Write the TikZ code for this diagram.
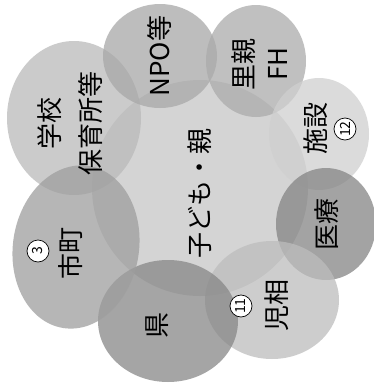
\documentclass[tikz,border=0pt]{standalone}
\usepackage{fontspec}
\setmainfont{Noto Sans CJK JP}
\definecolor{cC}{gray}{0.83}
\definecolor{cGakko}{gray}{0.73}
\definecolor{cNPO}{gray}{0.66}
\definecolor{cSato}{gray}{0.67}
\definecolor{cShis}{gray}{0.81}
\definecolor{cIryo}{gray}{0.52}
\definecolor{cJiso}{gray}{0.74}
\definecolor{cKen}{gray}{0.53}
\definecolor{cShi}{gray}{0.62}
\tikzset{
  blob/.style={fill opacity=0.75, draw=none},
  lbl/.style={rotate=90, text=black, align=center, inner sep=0pt, font=\fontsize{26}{34}\selectfont},
  num/.style={rotate=90, circle, draw=black, line width=0.7pt, fill=white, minimum size=22pt, inner sep=0pt, font=\fontsize{14}{14}\selectfont}
}
\begin{document}
\begin{tikzpicture}[x=1pt,y=-1pt]
\useasboundingbox (0,0) rectangle (374,389);
\fill[white] (0,0) rectangle (374,389);
% central
\fill[cC] (200,188) circle [radius=108];
% surrounding
\fill[cGakko,blob] (74,118) ellipse [x radius=67, y radius=77];
\fill[cNPO,blob] (160,56) ellipse [x radius=57, y radius=52];
\fill[cSato,blob] (256,61) ellipse [x radius=50, y radius=56];
\fill[cShis,blob] (319,134) ellipse [x radius=50, y radius=56];
\fill[cIryo,blob] (326,224) ellipse [x radius=50, y radius=56];
\fill[cJiso,blob] (272,300) ellipse [x radius=67, y radius=59];
\fill[cKen,blob] (168,321) ellipse [x radius=70, y radius=61];
\fill[cShi,blob,rotate around={-9:(76,247)}] (76,247) ellipse [x radius=63, y radius=82];
% labels
\node[lbl, font=\fontsize{26}{41}\selectfont] (gakko) at (70,123) {学校\\保育所等};
\node[lbl] (npo) at (160,56) {NPO等};
\node[lbl] (sato) at (260,64) {里親\\FH};
\node[lbl] (shisetsu) at (316,128) {施設};
\node[num] (n12) at (345,129) {12};
\node[lbl] (iryo) at (327,224) {医療};
\node[lbl] (jiso) at (277,305) {児相};
\node[num] (n11) at (241,306) {11};
\node[lbl] (ken) at (157,325) {県};
\node[lbl] (shicho) at (71,253) {市町};
\node[num] (n3) at (38,251) {3};
\node[lbl] (center) at (200,193) {子ども・親};
\end{tikzpicture}
\end{document}
